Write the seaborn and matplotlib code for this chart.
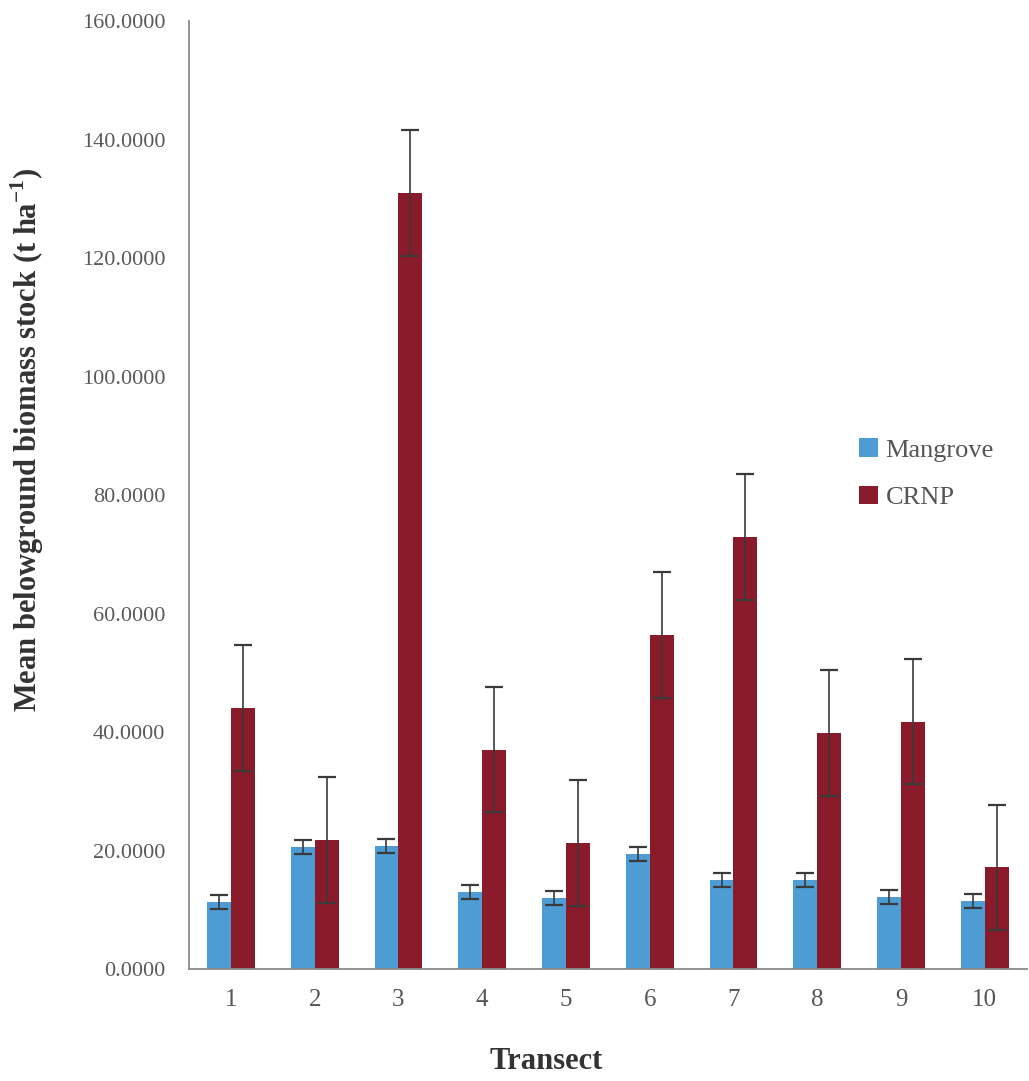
import numpy as np
import pandas as pd
import matplotlib
matplotlib.use("Agg")
import matplotlib.pyplot as plt
from matplotlib.patches import Patch
import seaborn as sns

# Mean belowground biomass stock per transect (t ha-1) with standard errors
transects = ["1", "2", "3", "4", "5", "6", "7", "8", "9", "10"]
mangrove = [11.4, 20.7, 20.8, 13.1, 12.1, 19.4, 15.1, 15.1, 12.2, 11.5]
mangrove_err = [1.2, 1.2, 1.2, 1.2, 1.2, 1.2, 1.2, 1.2, 1.2, 1.2]
crnp = [44.1, 21.8, 131.0, 37.1, 21.3, 56.4, 73.0, 39.9, 41.8, 17.2]
crnp_err = [10.6, 10.6, 10.6, 10.6, 10.6, 10.6, 10.6, 10.6, 10.6, 10.6]
groups = ["Mangrove", "CRNP"]
y_ticks = [0, 20, 40, 60, 80, 100, 120, 140, 160]

colors = {"Mangrove": "#4d9cd3", "CRNP": "#8a1b2b"}

df = pd.DataFrame({
    "Transect": transects * 2,
    "Group": ["Mangrove"] * len(transects) + ["CRNP"] * len(transects),
    "Value": mangrove + crnp,
})
errs = {"Mangrove": mangrove_err, "CRNP": crnp_err}
vals = {"Mangrove": mangrove, "CRNP": crnp}

sns.set_theme(style="white")
plt.rcParams["font.family"] = ["Liberation Serif", "DejaVu Serif"]
plt.rcParams["mathtext.fontset"] = "custom"
plt.rcParams["mathtext.rm"] = "Liberation Serif"
plt.rcParams["mathtext.bf"] = "Liberation Serif:bold"

fig = plt.figure(figsize=(10.29, 10.81), dpi=100)
ax = fig.add_axes([0.1837, 0.1033, 0.8140, 0.8770])

sns.barplot(data=df, x="Transect", y="Value", hue="Group", order=transects,
            hue_order=groups, palette=colors, width=0.57, errorbar=None,
            linewidth=0, saturation=1, legend=False, ax=ax)

# error bars centred on each drawn bar
for container, g in zip(ax.containers, groups):
    xs = [p.get_x() + p.get_width() / 2 for p in container.patches]
    ax.errorbar(xs, vals[g], yerr=errs[g], fmt="none", ecolor="#3a3a3a",
                elinewidth=1.2, capsize=6.5, capthick=1.6, zorder=3)

ax.set_ylim(0, 160)
ax.set_yticks(y_ticks)
ax.set_yticklabels([f"{v:.4f}" for v in y_ticks])
ax.set_xlim(-0.5, len(transects) - 0.5)

# category boundary ticks on the x axis
ax.set_xticks(np.arange(-0.5, len(transects), 1.0), minor=True)
ax.tick_params(axis="x", which="major", length=0, pad=14,
               labelsize=18, labelcolor="#555555")
ax.tick_params(axis="x", which="minor", length=8, width=1.2,
               color="#8a8a8a", direction="out")
ax.tick_params(axis="y", which="major", length=9, width=1.2,
               color="#8a8a8a", direction="out", pad=8,
               labelsize=16, labelcolor="#5a5a5a")

for side in ["top", "right"]:
    ax.spines[side].set_visible(False)
for side in ["left", "bottom"]:
    ax.spines[side].set_color("#8a8a8a")
    ax.spines[side].set_linewidth(1.3)

ax.set_xlabel("Transect", fontsize=22, fontweight="bold", color="#333333",
              va="center", ha="center")
ax.xaxis.set_label_coords(0.427, -0.097)
ax.set_ylabel(r"Mean belowground biomass stock (t ha$^{\mathbf{-1}}$)",
              fontsize=22, fontweight="bold", color="#333333",
              va="center", ha="center")
ax.yaxis.set_label_coords(-0.193, 0.558)

handles = [Patch(facecolor=colors[g], edgecolor="none") for g in groups]
ax.legend(handles, groups, frameon=False, loc="upper left",
          bbox_to_anchor=(0.80, 0.56), fontsize=19, labelcolor="#555555",
          handlelength=0.7, handleheight=0.7, handletextpad=0.3,
          labelspacing=0.9, borderpad=0, borderaxespad=0)

fig.savefig("out.png", dpi=100)
